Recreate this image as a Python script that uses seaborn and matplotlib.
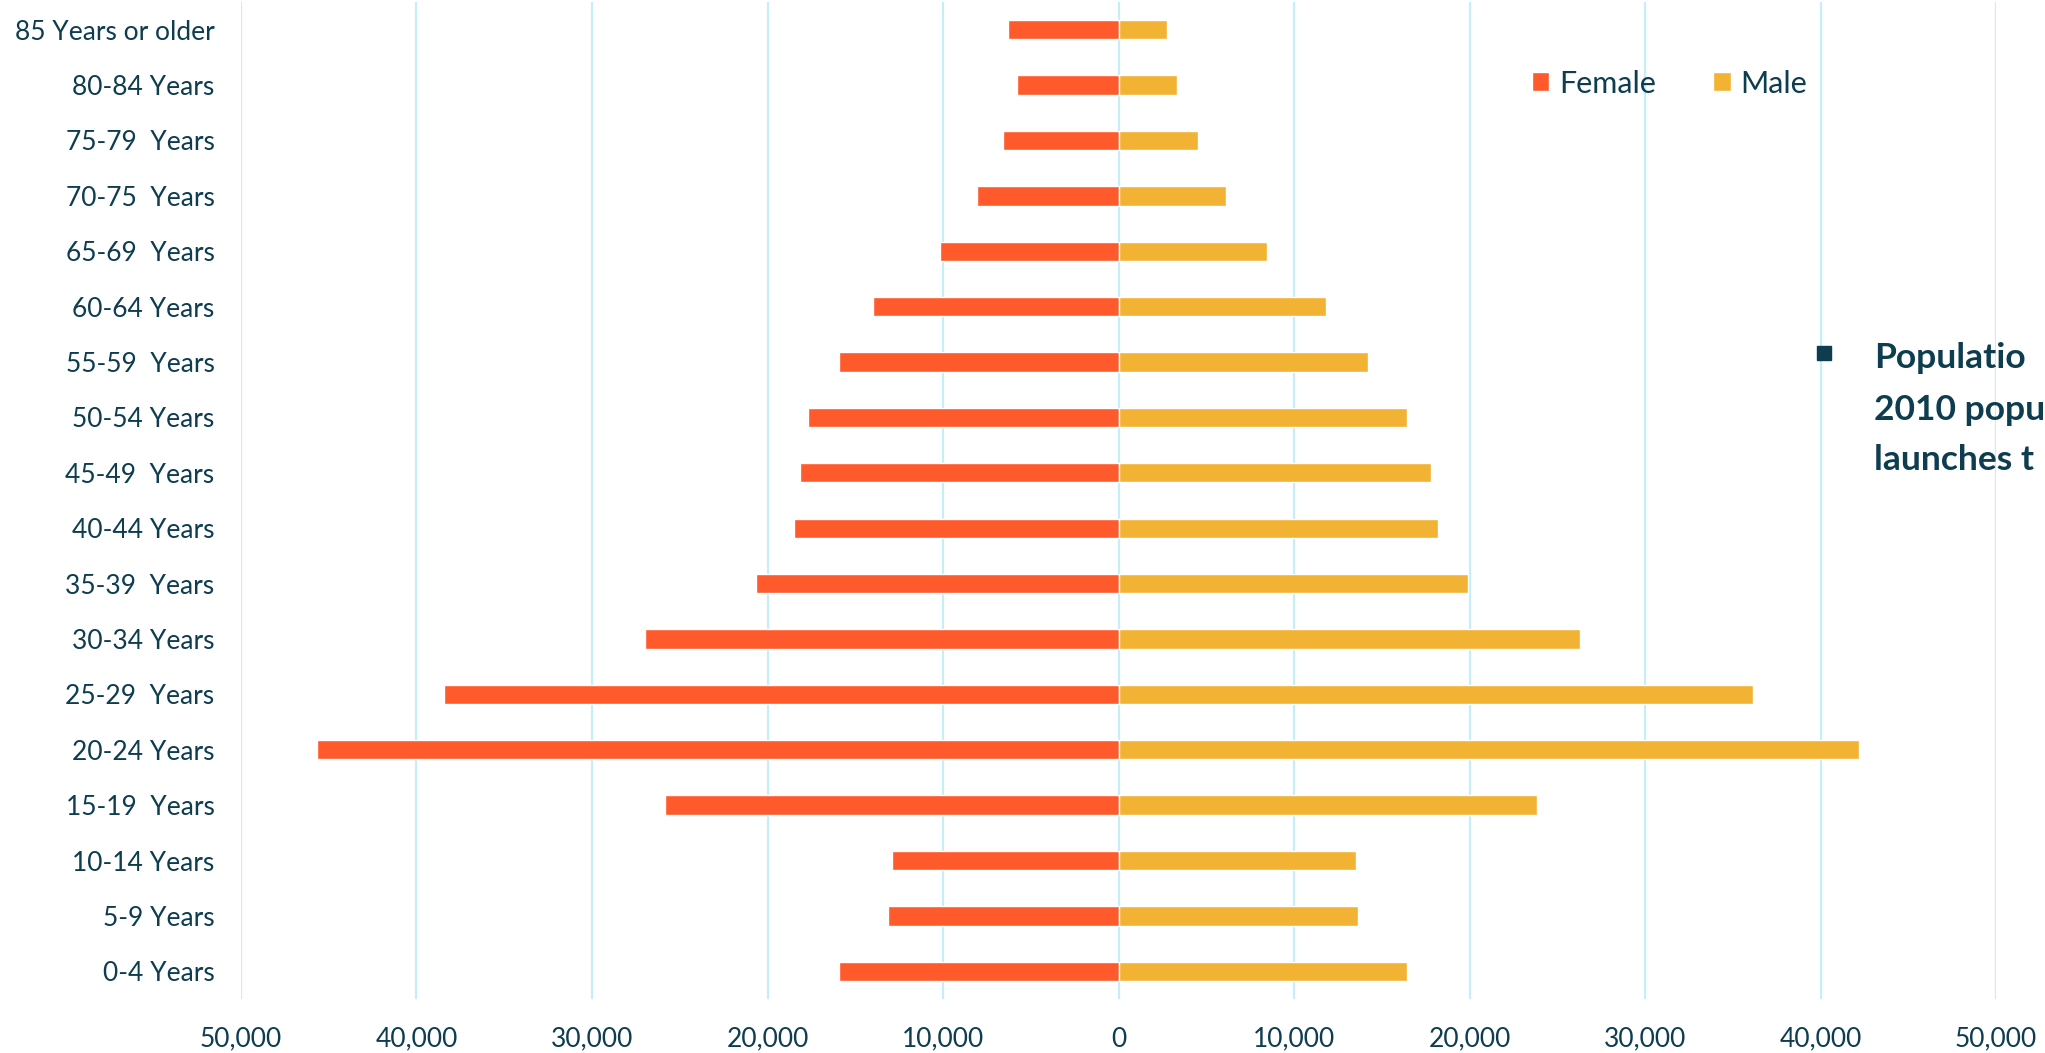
import numpy as np
import pandas as pd
import seaborn as sns
import matplotlib.pyplot as plt
from matplotlib.lines import Line2D
from matplotlib.ticker import FuncFormatter

# age groups, top of chart first
ages = ["85 Years or older", "80-84 Years", "75-79  Years", "70-75  Years",
        "65-69  Years", "60-64 Years", "55-59  Years", "50-54 Years",
        "45-49  Years", "40-44 Years", "35-39  Years", "30-34 Years",
        "25-29  Years", "20-24 Years", "15-19  Years", "10-14 Years",
        "5-9 Years", "0-4 Years"]
female = [6280, 5770, 6600, 8060, 10170, 13970, 15900, 17680,
          18130, 18500, 20650, 26970, 38410, 45690, 25850, 12930,
          13150, 15900]
male = [2750, 3320, 4530, 6130, 8480, 11810, 14190, 16420,
        17830, 18200, 19910, 26300, 36180, 42200, 23850, 13520,
        13670, 16420]
xticks = [-50000, -40000, -30000, -20000, -10000, 0,
          10000, 20000, 30000, 40000, 50000]

TEXT = "#0D3D4F"
GRID = "#C6EEF9"
COLORS = {"Female": "#FF5A2B", "Male": "#F2B233"}

df = pd.concat([
    pd.DataFrame({"age": ages, "sex": "Female", "pop": -np.array(female)}),
    pd.DataFrame({"age": ages, "sex": "Male", "pop": np.array(male)}),
])

sns.set_theme(style="white")
plt.rcParams["font.family"] = ["Lato", "DejaVu Sans"]

fig = plt.figure(figsize=(20.45, 10.53), dpi=100)
ax = fig.add_axes([241 / 2045, 1 - 999 / 1053, 1755 / 2045, 997 / 1053])

sns.barplot(data=df, y="age", x="pop", hue="sex", order=ages,
            hue_order=["Female", "Male"], palette=COLORS, dodge=False,
            width=0.35, orient="h", saturation=1, ax=ax, zorder=3)

ax.set_xlim(-50000, 50000)
ax.set_ylim(len(ages) - 0.5, -0.5)
ax.set_xticks(xticks)
ax.xaxis.set_major_formatter(FuncFormatter(lambda v, p: f"{abs(int(v)):,}"))
ax.grid(axis="x", color=GRID, linewidth=1.6, zorder=0)
ax.grid(axis="y", visible=False)
ax.set_axisbelow(True)
for s in ax.spines.values():
    s.set_visible(False)
ax.set_xlabel("")
ax.set_ylabel("")
ax.tick_params(axis="y", length=0, pad=19, labelsize=19, labelcolor=TEXT)
ax.tick_params(axis="x", length=0, pad=20, labelsize=19, labelcolor=TEXT)

ax.legend(loc="center", bbox_to_anchor=(0.814, 0.918), ncol=2, frameon=False,
          fontsize=22, labelcolor=TEXT, handlelength=0.58, handleheight=0.58,
          handletextpad=0.33, columnspacing=1.85)

# slide text on the right (cut off at the edge in the source slide)
fig.add_artist(Line2D([1823.5 / 2045], [1 - 352.5 / 1053], marker="s",
                      markersize=9.4, color=TEXT, linestyle="none",
                      transform=fig.transFigure))
for txt, base in [("Populatio", 368), ("2010 popu", 420), ("launches t", 470)]:
    fig.text(1874 / 2045, 1 - base / 1053, txt, fontsize=25.5, weight="bold",
             color=TEXT, va="baseline", ha="left")

fig.savefig("out.png", dpi=100, facecolor="white")
